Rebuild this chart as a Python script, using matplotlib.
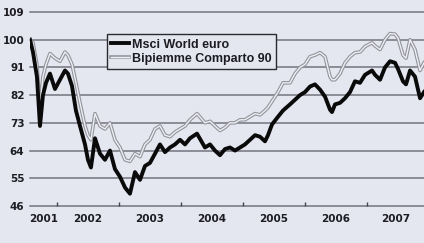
import numpy as np
import matplotlib.pyplot as plt
import matplotlib.patheffects as pe
from matplotlib.lines import Line2D

# pixel-read dates (decimal years) and index values
anni = [2001.565, 2001.613, 2001.677, 2001.726, 2001.774, 2001.823, 2001.887, 2001.968,
        2002.048, 2002.129, 2002.177, 2002.242, 2002.306, 2002.371, 2002.452, 2002.500,
        2002.548, 2002.613, 2002.694, 2002.774, 2002.855, 2002.935, 2003.016, 2003.097,
        2003.177, 2003.258, 2003.339, 2003.419, 2003.500, 2003.581, 2003.661, 2003.742,
        2003.823, 2003.903, 2003.984, 2004.065, 2004.145, 2004.258, 2004.387, 2004.468,
        2004.548, 2004.629, 2004.710, 2004.790, 2004.871, 2004.952, 2005.032, 2005.113,
        2005.194, 2005.274, 2005.355, 2005.403, 2005.468, 2005.565, 2005.645, 2005.758,
        2005.839, 2005.919, 2006.000, 2006.081, 2006.161, 2006.242, 2006.323, 2006.403,
        2006.435, 2006.484, 2006.565, 2006.645, 2006.726, 2006.806, 2006.887, 2006.968,
        2007.081, 2007.129, 2007.210, 2007.290, 2007.371, 2007.452, 2007.500, 2007.580,
        2007.629, 2007.694, 2007.774, 2007.855, 2007.919]

msci = [100, 96, 88, 72, 82, 86, 89, 84,
        87, 90, 89, 85, 77, 72, 66, 61,
        58.5, 68, 63, 61, 64, 58, 55.5, 52,
        50, 57, 54.5, 59, 60, 63, 66, 63.5,
        65, 66, 67.5, 66, 68, 69.5, 65, 66,
        64, 62.5, 64.5, 65, 64, 65, 66, 67.5,
        69, 68.5, 67, 69, 72.5, 75, 77, 79,
        80.5, 82, 83, 84.8, 85.5, 83.8, 81.5, 77.3,
        76.5, 79, 79.5, 81, 83, 86.5, 86, 88.6,
        90, 88.6, 87, 91, 93, 92.5, 90.5, 86.5,
        85.5, 90, 88, 81, 83]

bipiemme = [100, 99, 92, 78, 88, 92, 95.5, 94,
            93, 96, 95, 92, 86, 79.5, 72, 69,
            67.5, 76, 72, 71, 73, 67.5, 65, 61,
            60.5, 63, 62, 66, 67.5, 71, 72, 69,
            68.5, 70, 71, 72, 74, 76, 73, 73.5,
            72, 70.5, 71.5, 73, 73, 74, 74, 75,
            76, 75.6, 77, 78, 80, 83, 86, 86,
            89, 91, 92, 94.5, 95, 95.8, 94.5, 88,
            87, 87, 89, 92.5, 94.5, 95.8, 96, 97.8,
            99, 98, 96.8, 100, 102, 101.8, 100.5, 95,
            94, 100, 96.8, 90, 92.5]

valori_y = [46, 55, 64, 73, 82, 91, 100, 109]
etichette_anni = [2001, 2002, 2003, 2004, 2005, 2006, 2007]

sfondo = '#e5e7f0'
testo = '#1c1c22'

fig = plt.figure(figsize=(4.24, 2.43), dpi=100, facecolor=sfondo)
ax = fig.add_axes([30 / 424, 1 - 206 / 243, 394 / 424, 194 / 243])
ax.set_facecolor(sfondo)

x_min, x_max = anni[0], anni[-1]
ax.set_xlim(x_min, x_max)
ax.set_ylim(46, 109)

for v in valori_y:
    ax.axhline(v, color='#74747f', linewidth=1.1, zorder=1, clip_on=False)

ax.plot(anni, bipiemme, color='#eeeff4', linewidth=1.0, zorder=3,
        solid_joinstyle='round',
        path_effects=[pe.Stroke(linewidth=2.6, foreground='#93939c'), pe.Normal()],
        label='Bipiemme Comparto 90')
ax.plot(anni, msci, color='#0a0a0a', linewidth=2.8, zorder=4,
        solid_joinstyle='round', label='Msci World euro')

for s in ax.spines.values():
    s.set_visible(False)

ax.set_yticks(valori_y)
ax.set_yticklabels([str(v) for v in valori_y])
ax.tick_params(axis='y', length=0, pad=4, labelsize=7.5, labelcolor=testo)

# year labels centred on the visible part of each year, ticks on year boundaries
pos = [(max(a, x_min) + min(a + 1, x_max)) / 2 for a in etichette_anni]
ax.set_xticks(pos)
ax.set_xticklabels([str(a) for a in etichette_anni])
ax.set_xticks(etichette_anni[1:], minor=True)
ax.tick_params(axis='x', which='major', length=0, pad=6, labelsize=7.5, labelcolor=testo)
ax.tick_params(axis='x', which='minor', direction='in', length=3, width=1, color='#444450')

for lab in ax.get_xticklabels() + ax.get_yticklabels():
    lab.set_fontfamily(['Liberation Sans Narrow', 'DejaVu Sans'])
    lab.set_fontweight('bold')

maniglie = [
    Line2D([], [], color='#0a0a0a', linewidth=2.8),
    Line2D([], [], color='#eeeff4', linewidth=1.0,
           path_effects=[pe.Stroke(linewidth=2.6, foreground='#93939c'), pe.Normal()]),
]
leg = ax.legend(maniglie, ['Msci World euro', 'Bipiemme Comparto 90'],
                loc='upper left', bbox_to_anchor=(0.195, 0.885), borderaxespad=0,
                fancybox=False, frameon=True, framealpha=1, facecolor=sfondo,
                edgecolor='#2a2a30', handlelength=1.4, handletextpad=0.3,
                labelspacing=0.15, borderpad=0.35,
                prop={'family': 'Liberation Sans', 'weight': 'bold', 'size': 9})
leg.get_frame().set_linewidth(1.0)
leg.set_zorder(5)
for t in leg.get_texts():
    t.set_color(testo)

fig.savefig('out.png', dpi=100, facecolor=sfondo)
